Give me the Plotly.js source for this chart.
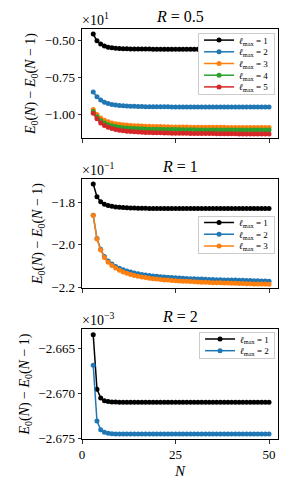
<!DOCTYPE html>
<html>
<head>
<meta charset="utf-8">
<script src="https://cdn.plot.ly/plotly-3.0.1.min.js"></script>
<style>html,body{margin:0;padding:0;background:#fff;}#plot{width:292px;height:490px;}</style>
</head>
<body>
<div id="plot"></div>
<script>
// N values (shared by all panels)
const N = [3,4,5,6,7,8,9,10,11,12,13,14,15,16,17,18,19,20,21,22,23,24,25,26,
           27,28,29,30,31,32,33,34,35,36,37,38,39,40,41,42,43,44,45,46,47,48,49,50];

// R = 0.5 panel, values in units of 10^1
const r05_l1 = [-0.460,-0.505,-0.527,-0.540,-0.548,-0.552,-0.555,-0.557,-0.558,-0.559,-0.560,-0.560,-0.561,-0.561,-0.561,-0.561,
  -0.562,-0.562,-0.562,-0.562,-0.562,-0.562,-0.562,-0.562,-0.562,-0.562,-0.562,-0.562,-0.562,-0.562,-0.562,-0.562,
  -0.562,-0.562,-0.562,-0.562,-0.562,-0.562,-0.562,-0.562,-0.562,-0.562,-0.562,-0.562,-0.562,-0.562,-0.562,-0.562];
const r05_l2 = [-0.849,-0.882,-0.904,-0.918,-0.927,-0.933,-0.937,-0.940,-0.942,-0.944,-0.945,-0.946,-0.947,-0.947,-0.948,-0.948,
  -0.948,-0.949,-0.949,-0.949,-0.949,-0.950,-0.950,-0.950,-0.950,-0.950,-0.950,-0.950,-0.950,-0.950,-0.950,-0.950,
  -0.950,-0.950,-0.950,-0.950,-0.950,-0.950,-0.950,-0.950,-0.950,-0.950,-0.950,-0.950,-0.950,-0.950,-0.950,-0.950];
const r05_l3 = [-0.967,-1.000,-1.025,-1.040,-1.050,-1.057,-1.062,-1.066,-1.069,-1.072,-1.074,-1.076,-1.077,-1.078,-1.079,-1.080,
  -1.081,-1.082,-1.082,-1.083,-1.083,-1.084,-1.084,-1.085,-1.085,-1.085,-1.086,-1.086,-1.086,-1.086,-1.087,-1.087,
  -1.087,-1.087,-1.087,-1.087,-1.088,-1.088,-1.088,-1.088,-1.088,-1.088,-1.088,-1.088,-1.088,-1.088,-1.088,-1.088];
const r05_l4 = [-0.980,-1.015,-1.041,-1.058,-1.069,-1.077,-1.082,-1.086,-1.089,-1.091,-1.093,-1.095,-1.096,-1.097,-1.098,-1.099,
  -1.099,-1.100,-1.100,-1.101,-1.101,-1.102,-1.102,-1.102,-1.103,-1.103,-1.103,-1.103,-1.104,-1.104,-1.104,-1.104,
  -1.104,-1.104,-1.104,-1.104,-1.104,-1.104,-1.105,-1.105,-1.105,-1.105,-1.105,-1.105,-1.105,-1.105,-1.105,-1.105];
const r05_l5 = [-0.993,-1.030,-1.058,-1.075,-1.087,-1.095,-1.101,-1.106,-1.110,-1.113,-1.115,-1.117,-1.119,-1.120,-1.121,-1.122,
  -1.123,-1.124,-1.124,-1.125,-1.125,-1.126,-1.126,-1.127,-1.127,-1.127,-1.128,-1.128,-1.128,-1.129,-1.129,-1.129,
  -1.129,-1.130,-1.130,-1.130,-1.130,-1.130,-1.130,-1.131,-1.131,-1.131,-1.131,-1.131,-1.132,-1.132,-1.132,-1.132];

// R = 1 panel, values in units of 10^-1
const r1_l1 = [-1.711,-1.772,-1.795,-1.807,-1.813,-1.817,-1.820,-1.822,-1.823,-1.824,-1.825,-1.825,-1.826,-1.826,-1.826,-1.827,
  -1.827,-1.827,-1.827,-1.827,-1.827,-1.827,-1.827,-1.828,-1.828,-1.828,-1.828,-1.828,-1.828,-1.828,-1.828,-1.828,
  -1.828,-1.828,-1.828,-1.828,-1.828,-1.828,-1.828,-1.828,-1.828,-1.828,-1.828,-1.828,-1.828,-1.828,-1.828,-1.828];
const r1_l2 = [-1.860,-1.970,-2.021,-2.055,-2.076,-2.091,-2.102,-2.111,-2.118,-2.124,-2.129,-2.133,-2.137,-2.140,-2.143,-2.145,
  -2.147,-2.149,-2.151,-2.152,-2.154,-2.155,-2.156,-2.157,-2.158,-2.159,-2.160,-2.161,-2.162,-2.162,-2.163,-2.164,
  -2.164,-2.165,-2.165,-2.166,-2.166,-2.167,-2.167,-2.168,-2.168,-2.169,-2.169,-2.170,-2.170,-2.171,-2.171,-2.172];
const r1_l3 = [-1.860,-1.972,-2.024,-2.060,-2.082,-2.098,-2.110,-2.120,-2.128,-2.135,-2.140,-2.145,-2.149,-2.152,-2.155,-2.158,
  -2.160,-2.162,-2.164,-2.166,-2.167,-2.169,-2.170,-2.171,-2.172,-2.173,-2.174,-2.175,-2.176,-2.177,-2.177,-2.178,
  -2.179,-2.179,-2.180,-2.181,-2.181,-2.182,-2.182,-2.183,-2.183,-2.184,-2.184,-2.185,-2.185,-2.186,-2.186,-2.187];

// R = 2 panel, values in units of 10^-3
const r2_l1 = [-2.66345,-2.66950,-2.67050,-2.67078,-2.67088,-2.67092,-2.67094,-2.67095,-2.67095,-2.67095,-2.67095,-2.67095,
  -2.67095,-2.67095,-2.67095,-2.67095,-2.67095,-2.67095,-2.67095,-2.67095,-2.67095,-2.67095,-2.67095,-2.67095,
  -2.67095,-2.67095,-2.67095,-2.67095,-2.67095,-2.67095,-2.67095,-2.67095,-2.67095,-2.67095,-2.67095,-2.67095,
  -2.67095,-2.67095,-2.67095,-2.67095,-2.67095,-2.67095,-2.67095,-2.67095,-2.67095,-2.67095,-2.67095,-2.67095];
const r2_l2 = [-2.66684,-2.67305,-2.67402,-2.67431,-2.67442,-2.67446,-2.67448,-2.67449,-2.67449,-2.67449,-2.67449,-2.67449,
  -2.67449,-2.67449,-2.67449,-2.67449,-2.67449,-2.67449,-2.67449,-2.67449,-2.67449,-2.67449,-2.67449,-2.67449,
  -2.67449,-2.67449,-2.67449,-2.67449,-2.67449,-2.67449,-2.67449,-2.67449,-2.67449,-2.67449,-2.67449,-2.67449,
  -2.67449,-2.67449,-2.67449,-2.67449,-2.67449,-2.67449,-2.67449,-2.67449,-2.67449,-2.67449,-2.67449,-2.67449];

const panelTitles = ['<i>R</i> = 0.5', '<i>R</i> = 1', '<i>R</i> = 2'];
const multipliers = ['×10<sup>1</sup>', '×10<sup>−1</sup>', '×10<sup>−3</sup>'];
const xTicks = [0, 25, 50];
const yTicks1 = [-0.50, -0.75, -1.00];
const yTicks2 = [-1.8, -2.0, -2.2];
const yTicks3 = [-2.665, -2.670, -2.675];
const colors = ['#000000', '#1f77b4', '#ff7f0e', '#2ca02c', '#d62728'];

const FONT = 'Liberation Serif, DejaVu Serif, serif';
function lab(k) { return '<i>ℓ</i><sub>max</sub> = ' + k; }
function tr(y, k, xa, ya, leg) {
  return {
    x: N, y: y, xaxis: xa, yaxis: ya, legend: leg, name: lab(k),
    type: 'scatter', mode: 'lines+markers',
    line: {color: colors[k-1], width: 1.5},
    marker: {color: colors[k-1], size: 5}
  };
}
const data = [
  tr(r05_l1,1,'x','y','legend'), tr(r05_l2,2,'x','y','legend'), tr(r05_l3,3,'x','y','legend'),
  tr(r05_l4,4,'x','y','legend'), tr(r05_l5,5,'x','y','legend'),
  tr(r1_l1,1,'x2','y2','legend2'), tr(r1_l2,2,'x2','y2','legend2'), tr(r1_l3,3,'x2','y2','legend2'),
  tr(r2_l1,1,'x3','y3','legend3'), tr(r2_l2,2,'x3','y3','legend3')
];

const dom = [[0.734, 1.0], [0.368, 0.634], [0.0, 0.268]];
const ytitle = '<i>E</i><sub>0</sub>(<i>N</i>) − <i>E</i><sub>0</sub>(<i>N</i> − 1)';
function xax(anchor, labels) {
  return {
    domain: [0, 1], anchor: anchor, range: [0, 52.4],
    tickvals: xTicks, ticks: 'outside', ticklen: 3.5, tickwidth: 0.8, tickcolor: '#000',
    showticklabels: labels, showgrid: false, zeroline: false,
    showline: true, mirror: true, linecolor: '#000', linewidth: 1,
    tickfont: {family: FONT, size: 13, color: '#000'}
  };
}
function yax(anchor, d, range, tv, fmt) {
  return {
    domain: d, anchor: anchor, range: range,
    tickvals: tv, tickformat: fmt, ticks: 'outside', ticklen: 3.5, tickwidth: 0.8, tickcolor: '#000',
    showgrid: false, zeroline: false,
    showline: true, mirror: true, linecolor: '#000', linewidth: 1,
    tickfont: {family: FONT, size: 13, color: '#000'},
    title: {text: ytitle, font: {family: FONT, size: 14, color: '#000'}, standoff: 5}
  };
}
const legBase = {
  xref: 'paper', yref: 'paper', xanchor: 'right', yanchor: 'top', x: 0.985,
  bgcolor: '#ffffff', bordercolor: '#cccccc', borderwidth: 1,
  font: {family: FONT, size: 9, color: '#000'}, itemwidth: 30, tracegroupgap: 0
};
const ann = [];
for (let i = 0; i < 3; i++) {
  ann.push({xref: 'paper', yref: 'paper', x: 0.5, y: dom[i][1], yanchor: 'bottom', xanchor: 'center',
            yshift: 2, showarrow: false, text: panelTitles[i], font: {family: FONT, size: 16, color: '#000'}});
  ann.push({xref: 'paper', yref: 'paper', x: 0, y: dom[i][1], yanchor: 'bottom', xanchor: 'left',
            xshift: -2, yshift: -1, showarrow: false, text: multipliers[i], font: {family: FONT, size: 14, color: '#000'}});
}
const layout = {
  width: 292, height: 490,
  margin: {l: 82, r: 14, t: 29, b: 51},
  paper_bgcolor: '#fff', plot_bgcolor: '#fff',
  font: {family: FONT, color: '#000'},
  xaxis: xax('y', false), xaxis2: xax('y2', false),
  xaxis3: Object.assign(xax('y3', true), {title: {text: '<i>N</i>', font: {family: FONT, size: 15, color: '#000'}, standoff: 4}}),
  yaxis: yax('x', dom[0], [-1.159, -0.426], yTicks1, '.2f'),
  yaxis2: yax('x2', dom[1], [-2.205, -1.688], yTicks2, '.1f'),
  yaxis3: yax('x3', dom[2], [-2.67505, -2.66282], yTicks3, '.3f'),
  legend: Object.assign({}, legBase, {y: 0.99}),
  legend2: Object.assign({}, legBase, {y: 0.545}),
  legend3: Object.assign({}, legBase, {y: 0.261}),
  annotations: ann,
  showlegend: true
};
Plotly.newPlot('plot', data, layout, {staticPlot: true, displayModeBar: false}).then(function () {
  // compact legend rows (matplotlib-like spacing)
  const step = 11.7;
  document.querySelectorAll('g.legend, g.legend2, g.legend3').forEach(function (leg) {
    const items = leg.querySelectorAll('g.traces');
    items.forEach(function (it, i) {
      const t = it.getAttribute('transform') || '';
      const m = /translate\(\s*([-\d.e]+)[ ,]+([-\d.e]+)\s*\)/.exec(t);
      const x = m ? m[1] : 0;
      it.setAttribute('transform', 'translate(' + x + ',' + (1 + 6 + i * step) + ')');
    });
    const bg = leg.querySelector('rect.bg');
    if (bg) bg.setAttribute('height', items.length * step + 2.5);
  });
});
</script>
</body>
</html>
